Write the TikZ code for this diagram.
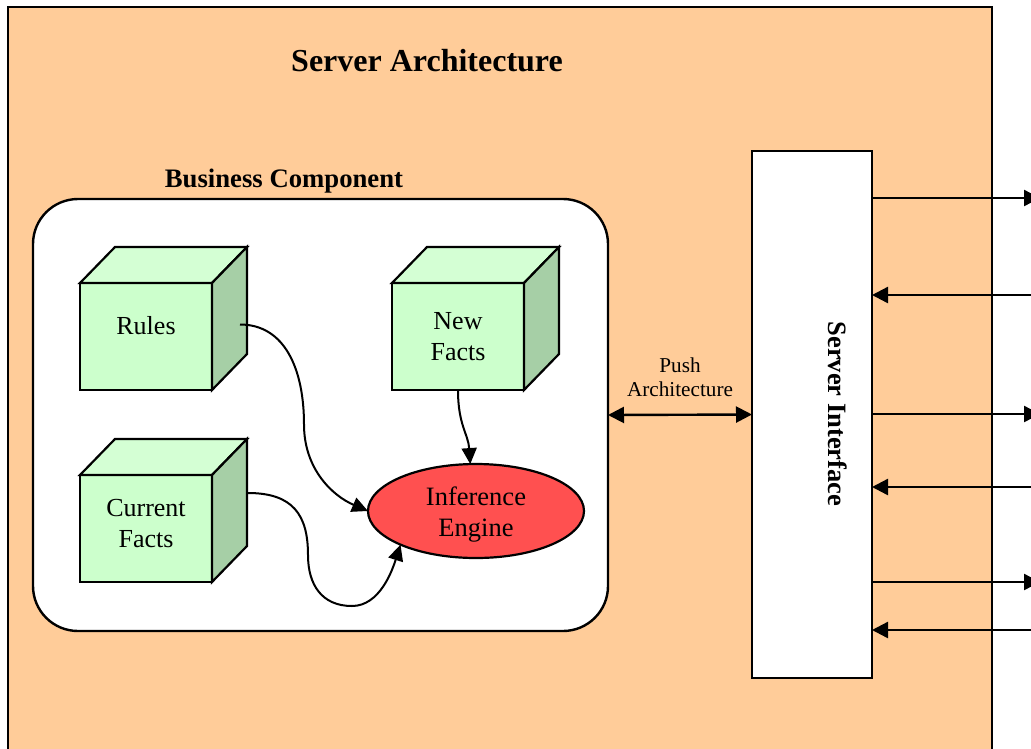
\documentclass[tikz,border=0pt]{standalone}
\usepackage{fontspec}
\setmainfont{Liberation Serif}
\usetikzlibrary{arrows.meta,calc,shapes.geometric}

\definecolor{serverbg}{HTML}{FFCC99}
\definecolor{cubefront}{HTML}{CCFFCC}
\definecolor{cubetop}{HTML}{D4FFD4}
\definecolor{cubeside}{HTML}{A6CFA6}
\definecolor{enginered}{HTML}{FF5050}

\tikzset{
  frame/.style={draw=black, line width=2.4pt},
  cubeface/.style={draw=black, line width=2.2pt, fill=cubefront, outer sep=0pt,
    minimum width=132pt, minimum height=107pt, inner sep=0pt},
  boxtext/.style={align=center, inner sep=0pt, font=\fontsize{26}{31}\selectfont},
  cubetopface/.style={draw=black, line width=2.2pt, fill=cubetop, line join=miter},
  cubesideface/.style={draw=black, line width=2.2pt, fill=cubeside, line join=miter},
  flow/.style={draw=black, line width=2pt, -{Triangle[length=16pt,width=15pt]}},
  link/.style={draw=black, line width=2.4pt, -{Triangle[length=16pt,width=16pt]}},
  biglink/.style={draw=black, line width=2.4pt, {Triangle[length=16pt,width=16pt]}-{Triangle[length=16pt,width=16pt]}},
  heading/.style={font=\fontsize{32}{38}\selectfont\bfseries},
  subheading/.style={font=\fontsize{26.7}{32}\selectfont\bfseries},
}

\begin{document}
\begin{tikzpicture}[x=1pt,y=-1pt]
\useasboundingbox (0,0) rectangle (1031,748);
\clip (0,0) rectangle (1031,748);

% server frame
\fill[white] (0,0) rectangle (1031,748);
\filldraw[frame, fill=serverbg] (8,7) rectangle (992,770);
\node[heading] (title) at (427,61) {Server Architecture};

% business component
\node[subheading] (bizlabel) at (284,181) {Business Component};
\node[draw=black, line width=2.4pt, fill=white, rounded corners=45pt,
      minimum width=575pt, minimum height=432pt, outer sep=0pt] (biz) at (320.5,415) {};

% cubes: front faces, then top and side faces
\node[cubeface] (rules)    at (146,336.5) {};
\node[cubeface] (newfacts) at (458,336.5) {};
\node[cubeface] (curfacts) at (146,528.5) {};

\foreach \c in {rules,newfacts,curfacts}{
  \draw[cubetopface] (\c.north west) -- ($(\c.north west)+(35,-36)$)
     -- ($(\c.north east)+(35,-36)$) -- (\c.north east) -- cycle;
  \draw[cubesideface] (\c.north east) -- ($(\c.north east)+(35,-36)$)
     -- ($(\c.south east)+(35,-36)$) -- (\c.south east) -- cycle;
}

\node[boxtext] (rulestext)    at ($(rules.center)+(0,-10.5)$) {Rules};
\node[boxtext] (newfactstext) at (newfacts.center) {New\\Facts};
\node[boxtext] (curfactstext) at ($(curfacts.center)+(0,-4.5)$) {Current\\Facts};

% inference engine
\node[ellipse, draw=black, line width=2.2pt, fill=enginered, outer sep=0pt,
      minimum width=216pt, minimum height=94pt] (engine) at (476,511) {};
\node[boxtext, font=\fontsize{26.5}{31}\selectfont] (enginetext)
      at ($(engine.center)+(0,3.5)$) {Inference\\Engine};

% facts and rules flowing into the engine
\draw[flow] ($(rules.east)+(28,-12)$) .. controls +(45,0) and +(0,-55) .. ++(64,100)
   .. controls +(0,45) and +(-35,-15) .. (engine.west);
\draw[flow] ($(curfacts.east)+(36,-35.5)$) .. controls +(45,0) and +(0,-40) .. ++(60,62)
   .. controls +(0,30) and +(-30,0) .. ++(44,51)
   .. controls +(28,0) and +(-8,25) .. (engine.204);
\draw[flow] (newfacts.south) .. controls +(0,35) and +(-2,-30) .. (engine.97);

% server interface
\node[draw=black, line width=2.4pt, fill=white, outer sep=0pt,
      minimum width=120pt, minimum height=527pt] (si) at (812,414.5) {};
\node[rotate=-90, font=\fontsize{26.5}{32}\selectfont\bfseries] (silabel) at (838,414) {Server Interface};

% push link
\draw[biglink] (biz.east) -- (si.west);
\node[align=center, font=\fontsize{21.2}{24.5}\selectfont] (pushlabel) at (680,377) {Push\\Architecture};

% external connections
\coordinate (o1) at (1040,198);
\coordinate (i1) at (1040,295);
\coordinate (o2) at (1040,414);
\coordinate (i2) at (1040,487);
\coordinate (o3) at (1040,582);
\coordinate (i3) at (1040,630);
\foreach \o in {o1,o2,o3} \draw[link] (si.east |- \o) -- (\o);
\foreach \i in {i1,i2,i3} \draw[link] (\i) -- (si.east |- \i);

\end{tikzpicture}
\end{document}
